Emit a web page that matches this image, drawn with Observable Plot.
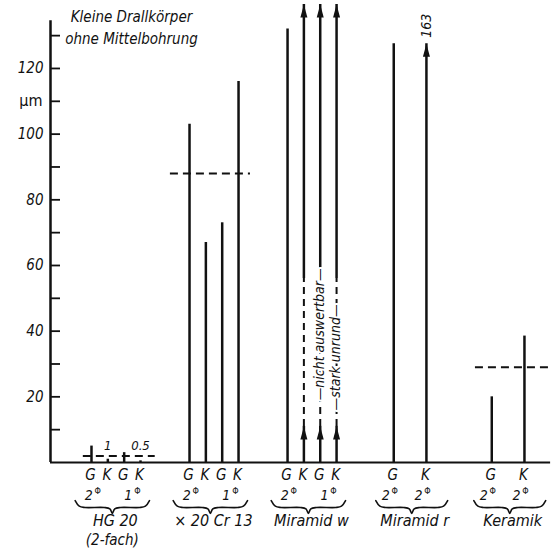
<!DOCTYPE html>
<html><head><meta charset="utf-8">
<script src="https://cdn.jsdelivr.net/npm/d3@7"></script>
<script src="https://cdn.jsdelivr.net/npm/@observablehq/plot@0.6"></script>
<style>
body{margin:0;background:#fff;}
#chart svg{display:block;}
</style></head><body><div id="chart"></div>
<script>
// ---------------- data ----------------
const titleLines = ["Kleine Drallkörper", "ohne Mittelbohrung"];
const groupNames = ["HG 20", "× 20 Cr 13", "Miramid w", "Miramid r", "Keramik"];
const groupNotes = ["(2-fach)", "", "", "", ""];
const barGroup  = [0,0,0,0, 1,1,1,1, 2,2,2,2, 3,3, 4,4];
const barLetter = ["G","K","G","K", "G","K","G","K", "G","K","G","K", "G","K", "G","K"];
const barPhi    = ["2","2","1","1", "2","2","1","1", "2","2","1","1", "2","2", "2","2"];
// measured values in µm (null = not evaluable)
const barValue  = [5, 1, 3, 0.5, 103, 67, 73, 116, 132, null, null, null, 127.5, 163, 20, 38.5];
// bars that run off the scale (arrow at top) and their drawn tip
const offScaleBars = [9, 10, 11, 13];
const offScaleTip  = [139.5, 139.5, 139.5, 127.5];
// not evaluable ("nicht auswertbar / stark unrund") bars: solid to low, dashed to high
const notEvalBars = [9, 10, 11];
const notEvalLow = 11;
const notEvalHigh = 56;
// dashed mean lines
const refGroup = [0, 1, 4];
const refValue = [2, 88, 29];
// value annotations
const noteBar  = [1, 3, 13];
const noteText = ["1", "0.5", "163"];
const sideNotes = ["—nicht auswertbar—", "—stark unrund—"];
const sideNoteBar = [10, 11];
const sideNoteY = [39, 32];
// axis
const yTicks = [10,20,30,40,50,60,70,80,90,100,110,120,130];
const yTickLabels = [20,40,60,80,100,120];
const yUnit = "µm";
const yUnitAt = 110;

// ---------------- layout ----------------
const groupStart = [0, 6, 12, 18.5, 24.5];
const groupStep  = [1, 1, 1, 2, 2];
const refPad = [[0.5, 0.9], [1.17, 0.73], [1.0, 1.47]];
const pxPerSlot = 16.34;
const xDomain = [-2.509, 28.40];
const yDomain = [0, 140.7];
const axisTop = 134.5;

const idxInGroup = barGroup.map((g, i) => barGroup.slice(0, i).filter(h => h === g).length);
const slotOf = i => groupStart[barGroup[i]] + idxInGroup[i] * groupStep[barGroup[i]];
const bars = barValue.map((v, i) => ({i, g: barGroup[i], letter: barLetter[i], phi: barPhi[i], value: v, x: slotOf(i)}));

const normalBars = bars.filter(b => b.value != null && !offScaleBars.includes(b.i));
const offBars = offScaleBars.map((bi, k) => ({x: slotOf(bi), tip: offScaleTip[k], ne: notEvalBars.includes(bi)}));

const groups = groupNames.map((name, g) => {
  const xs = bars.filter(b => b.g === g).map(b => b.x);
  const step = groupStep[g];
  const x0 = d3.min(xs) - (step === 1 ? 1.0 : 1.1);
  const x1 = d3.max(xs) + (step === 1 ? 0.55 : 1.3);
  return {g, name, note: groupNotes[g], x0, x1, xc: (x0 + x1) / 2};
});

// phi labels: one per pair of consecutive bars with the same phi in a group (or per bar)
const phiLabels = [];
groupNames.forEach((_, g) => {
  const gb = bars.filter(b => b.g === g);
  if (groupStep[g] === 1) {
    for (let k = 0; k < gb.length; k += 2) {
      const shiftPx = gb[k].phi === "2" ? -7 : 0;
      phiLabels.push({x: (gb[k].x + gb[k+1].x) / 2 + shiftPx / pxPerSlot, phi: gb[k].phi});
    }
  } else {
    gb.forEach(b => phiLabels.push({x: b.x - 4 / pxPerSlot, phi: b.phi}));
  }
});

const braces = [];
groups.forEach(({g, x0, x1, xc}) => {
  const pts = [[x0, -11.6], [x0 + 0.25, -13.3], [x0 + 0.6, -13.7], [xc - 0.5, -13.7], [xc - 0.15, -14.1], [xc, -15.5],
               [xc + 0.15, -14.1], [xc + 0.5, -13.7], [x1 - 0.6, -13.7], [x1 - 0.25, -13.3], [x1, -11.6]];
  pts.forEach(([x, y]) => braces.push({g, x, y}));
});

const refs = refGroup.map((g, k) => {
  const xs = bars.filter(b => b.g === g).map(b => b.x);
  return {y: refValue[k], x1: d3.min(xs) - refPad[k][0], x2: d3.max(xs) + refPad[k][1]};
});

const arrowSymbol = {draw(ctx) { ctx.moveTo(0, 0); ctx.lineTo(-3.5, 13); ctx.lineTo(3.5, 13); ctx.closePath(); }};
const arrowTips = [
  ...offBars.map(d => ({x: d.x, y: d.tip})),
  ...notEvalBars.map(bi => ({x: slotOf(bi), y: notEvalLow}))
];

const font = "'Liberation Sans Narrow', 'DejaVu Sans Condensed', sans-serif";
const ink = "#111";

const plot = Plot.plot({
  width: 559, height: 548,
  marginLeft: 50, marginRight: 4, marginTop: 0, marginBottom: 86,
  x: {type: "linear", domain: xDomain, axis: null},
  y: {type: "linear", domain: yDomain, axis: null},
  style: {fontFamily: font, fontStyle: "italic", fontSize: "15px", background: "white", color: ink},
  marks: [
    // axes
    Plot.ruleX([xDomain[0]], {y1: 0, y2: axisTop, stroke: ink, strokeWidth: 2.5}),
    Plot.ruleY([0], {x1: xDomain[0], x2: 28.1, stroke: ink, strokeWidth: 2}),
    Plot.ruleY(yTicks, {y: d => d, x1: xDomain[0], x2: xDomain[0] + 10 / pxPerSlot, stroke: ink, strokeWidth: 1.8}),
    Plot.text(yTickLabels, {x: xDomain[0], y: d => d, text: d => String(d), dx: -7, textAnchor: "end", fontSize: 15, fill: ink}),
    Plot.text([yUnit], {x: xDomain[0], y: yUnitAt, text: d => d, dx: -8, textAnchor: "end", fontSize: 16, fontStyle: "normal", fill: ink}),
    // dashed mean lines
    Plot.ruleY(refs, {y: "y", x1: "x1", x2: "x2", stroke: ink, strokeWidth: 2, strokeDasharray: "8,5"}),
    // bars
    Plot.ruleX(normalBars, {x: "x", y1: 0, y2: "value", stroke: ink, strokeWidth: 2.5}),
    Plot.ruleX(offBars.filter(d => !d.ne), {x: "x", y1: 0, y2: "tip", stroke: ink, strokeWidth: 2.5}),
    Plot.ruleX(offBars.filter(d => d.ne), {x: "x", y1: 0, y2: notEvalLow, stroke: ink, strokeWidth: 2.5}),
    Plot.ruleX(offBars.filter(d => d.ne), {x: "x", y1: notEvalLow, y2: notEvalHigh, stroke: ink, strokeWidth: 2, strokeDasharray: "7,5"}),
    Plot.ruleX(offBars.filter(d => d.ne), {x: "x", y1: notEvalHigh, y2: "tip", stroke: ink, strokeWidth: 2.5}),
    Plot.dot(arrowTips, {x: "x", y: "y", symbol: arrowSymbol, fill: ink, stroke: "none", r: 4}),
    // side notes on dashed bars
    Plot.text(sideNotes, {x: (d, k) => slotOf(sideNoteBar[k]), y: (d, k) => sideNoteY[k], text: d => d, rotate: -90, fontSize: 14, fill: ink, stroke: "white", strokeWidth: 4, dx: -1}),
    // value notes
    Plot.text(noteText.slice(0, 2), {x: (d, k) => slotOf(noteBar[k]), y: 5, text: d => d, fontSize: 13, fill: ink}),
    Plot.text(noteText.slice(2), {x: (d, k) => slotOf(noteBar[k + 2]), y: 133, text: d => d, rotate: -90, fontSize: 14, fill: ink}),
    // G / K letters
    Plot.text(bars, {x: "x", y: 0, text: "letter", dy: 13, dx: -1, fontSize: 15, fill: ink}),
    // phi labels
    Plot.text(phiLabels, {x: "x", y: 0, text: "phi", dy: 33, dx: -4, fontSize: 14, fill: ink}),
    Plot.text(phiLabels, {x: "x", y: 0, text: () => "Φ", dy: 29, dx: 5, fontSize: 9, fontStyle: "normal", fill: ink}),
    // braces
    Plot.line(braces, {x: "x", y: "y", z: "g", curve: "catmull-rom", stroke: ink, strokeWidth: 1.6}),
    // group names
    Plot.text(groups, {x: "xc", y: 0, text: "name", dy: 58, dx: 3, fontSize: 16, fill: ink}),
    Plot.text(groups.filter(d => d.note), {x: "xc", y: 0, text: "note", dy: 77.5, fontSize: 15, fill: ink}),
    // title
    Plot.text([titleLines.join("\n")], {frameAnchor: "top-left", dx: 81, dy: 6, lineAnchor: "top", lineHeight: 1.47, textAnchor: "middle", fontSize: 15, fill: ink})
  ]
});
document.getElementById("chart").appendChild(plot);
</script>
</body></html>
